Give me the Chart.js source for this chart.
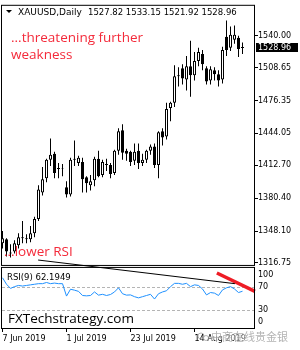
<!DOCTYPE html>
<html><head><meta charset="utf-8">
<script src="https://cdn.jsdelivr.net/npm/chart.js@4"></script>
<style>html,body{margin:0;padding:0;background:#fff;overflow:hidden}#wrap{width:300px;height:350px;position:relative}</style>
</head><body><div id="wrap"><canvas id="c" width="300" height="350"></canvas></div>
<script>
const dates = ['7 Jun 2019','10 Jun 2019','11 Jun 2019','12 Jun 2019','13 Jun 2019','14 Jun 2019','17 Jun 2019','18 Jun 2019','19 Jun 2019','20 Jun 2019','21 Jun 2019','24 Jun 2019','25 Jun 2019','26 Jun 2019','27 Jun 2019','28 Jun 2019','1 Jul 2019','2 Jul 2019','3 Jul 2019','4 Jul 2019','5 Jul 2019','8 Jul 2019','9 Jul 2019','10 Jul 2019','11 Jul 2019','12 Jul 2019','15 Jul 2019','16 Jul 2019','17 Jul 2019','18 Jul 2019','19 Jul 2019','22 Jul 2019','23 Jul 2019','24 Jul 2019','25 Jul 2019','26 Jul 2019','29 Jul 2019','30 Jul 2019','31 Jul 2019','1 Aug 2019','2 Aug 2019','5 Aug 2019','6 Aug 2019','7 Aug 2019','8 Aug 2019','9 Aug 2019','12 Aug 2019','13 Aug 2019','14 Aug 2019','15 Aug 2019','16 Aug 2019','19 Aug 2019','20 Aug 2019','21 Aug 2019','22 Aug 2019','23 Aug 2019','26 Aug 2019','27 Aug 2019','28 Aug 2019','29 Aug 2019','30 Aug 2019'];
const open = [1336,1340,1327,1328,1334,1342,1341,1340,1346,1360, 1386,1400,1418,1424,1409,1409,1391,1384,1418,1415, 1416,1401,1393,1398,1419,1403,1414,1413,1405,1427, 1447,1427,1426,1417,1427,1415,1418,1427,1431,1413, 1446,1441,1469,1474,1500,1508,1497,1510,1501,1515, 1522,1508,1496,1506,1502,1497,1539,1528,1536,1538, 1527.82];
const high = [1348,1341,1335,1339,1346,1358,1345,1353,1362,1393, 1411,1419,1439,1426,1415,1414,1397,1420,1437,1422, 1420,1402,1403,1421,1427,1418,1419,1415,1428,1449, 1453,1429,1427,1434,1434,1424,1428,1433,1434,1446, 1449,1474,1475,1511,1509,1512,1520,1535,1524,1528, 1526,1510,1510,1509,1506,1529,1555,1549,1550,1540, 1533.15];
const low = [1331,1323,1322,1326,1331,1336,1336,1337,1342,1358, 1383,1396,1412,1400,1400,1402,1381,1382,1412,1412, 1386,1386,1388,1392,1401,1401,1407,1400,1403,1423, 1418,1417,1412,1413,1409,1412,1415,1423,1410,1400, 1432,1438,1456,1470,1490,1492,1486,1480,1496,1510, 1506,1492,1492,1496,1490,1493,1520,1525,1532,1519, 1521.92];
const close = [1341,1328,1326,1336,1342,1341,1340,1346,1360,1389, 1399,1418,1423,1405,1410,1409.5,1384,1418,1419,1420, 1399,1395,1397,1419,1402,1416,1413,1404,1427,1446, 1425,1424,1416,1426,1415,1418,1427,1431,1413,1445, 1440,1468,1474,1500,1501,1498,1510,1501,1515,1524, 1512,1495,1507,1502,1496,1526,1526,1541,1541,1527, 1528.96];
const rsi = [85,74,67,70,72,71,72,73,74,75, 75,77,75,76,75,75,54,65.6,64,62, 55,54.4,55,61,55.6,57,55,56.7,61,68, 58,55.6,56,53,51,53,55,57,49,58, 61,63,70,75.5,75.5,74,75.5,70,73,72, 66,56,60,59,55,64.5,68,70,66,60, 62.1949];
const priceTicks = [1540.00,1508.65,1476.35,1444.05,1412.70,1380.40,1348.10,1316.75];
const rsiTicks = [100,70,30,0];
const rsiLevels = [70,30];
const tickDates = ['7 Jun 2019','1 Jul 2019','23 Jul 2019','14 Aug 2019'];
const trendX = [8.9, 58.1], trendY = [115, 75];
const arrowX = [53.6, 63.1], arrowY = [93, 62];

const idx = dates.map((d,i)=>i);
const wickData = idx.map(i=>({x:i, y:[low[i], high[i]]}));
const bodyData = idx.map(i=>({x:i, y:[open[i], close[i]]}));
const bodyFill = idx.map(i=> close[i] >= open[i] ? '#ffffff' : '#000000');
const last = dates.length - 1;

const deco = {
  id: 'deco',
  beforeDatasetsDraw(chart) {
    const ctx = chart.ctx, a = chart.chartArea, r = chart.scales.rsi;
    ctx.save();
    ctx.strokeStyle = '#b4b4b4'; ctx.lineWidth = 1; ctx.setLineDash([3,2]);
    rsiLevels.forEach(v => {
      const y = Math.round(r.getPixelForValue(v)) + 0.5;
      ctx.beginPath(); ctx.moveTo(a.left + 1, y); ctx.lineTo(a.right - 1, y); ctx.stroke();
    });
    ctx.restore();
  },
  afterDraw(chart) {
    const ctx = chart.ctx, a = chart.chartArea, p = chart.scales.y, r = chart.scales.rsi;
    ctx.save();
    ctx.setLineDash([]);
    ctx.strokeStyle = '#000'; ctx.lineWidth = 1;
    ctx.strokeRect(a.left + 0.5, p.top + 0.5, a.right - a.left - 1, p.bottom - p.top - 1);
    ctx.strokeRect(a.left + 0.5, r.top + 1.5, a.right - a.left - 1, r.bottom - r.top - 2);
    ctx.fillStyle = '#000'; ctx.font = '8px "DejaVu Sans"'; ctx.textBaseline = 'middle'; ctx.textAlign = 'left';
    rsiTicks.forEach(v => {
      let y = r.getPixelForValue(v);
      y = Math.min(Math.max(y, r.top + 9), r.bottom - 7);
      ctx.fillText(String(v), a.right + 3, y);
    });
    const cy = p.getPixelForValue(close[last]);
    ctx.fillStyle = '#000';
    ctx.fillRect(a.right + 1, Math.round(cy) - 4, 42, 9);
    ctx.fillStyle = '#fff';
    ctx.fillText(close[last].toFixed(2), a.right + 3, Math.round(cy) + 0.5);
    ctx.fillStyle = '#000';
    ctx.beginPath(); ctx.moveTo(6, 10); ctx.lineTo(12, 10); ctx.lineTo(9, 13); ctx.closePath(); ctx.fill();
    ctx.textBaseline = 'alphabetic';
    ctx.font = '9px "DejaVu Sans"';
    ctx.fillText('XAUUSD,Daily', 18, 15);
    ctx.font = '8.5px "DejaVu Sans"';
    ctx.fillText([open[last], high[last], low[last], close[last]].map(v=>v.toFixed(2)).join(' '), 88, 15);
    ctx.fillText('RSI(9) ' + rsi[last].toFixed(4), 7, 280);
    ctx.fillStyle = '#f42a3a';
    ctx.font = '13.5px "Open Sans"';
    ctx.fillText('...threatening further', 11, 42);
    ctx.fillText('weakness', 11, 59);
    ctx.fillText('...lower RSI', 4, 256);
    ctx.fillStyle = '#000';
    ctx.font = '13.5px "Open Sans"';
    ctx.fillText('FXTechstrategy.com', 8, 323);
    ctx.globalAlpha = 0.75;
    ctx.strokeStyle = '#a0a0a0'; ctx.lineWidth = 1;
    ctx.beginPath(); ctx.arc(201, 336, 3, 0, Math.PI * 2); ctx.stroke();
    ctx.beginPath(); ctx.arc(206, 338, 2.5, 0, Math.PI * 2); ctx.stroke();
    ctx.font = '11px "Noto Sans CJK SC"';
    ctx.lineWidth = 2; ctx.strokeStyle = 'rgba(255,255,255,0.6)';
    ctx.strokeText('中商在线贵金银', 211, 341);
    ctx.fillStyle = '#9a9a9a';
    ctx.fillText('中商在线贵金银', 211, 341);
    ctx.restore();
  }
};

new Chart(document.getElementById('c'), {
  type: 'bar',
  data: { datasets: [
    {type:'line', label:'trend', yAxisID:'rsi', data: trendX.map((x,k)=>({x, y: trendY[k]})), borderColor:'#000', borderWidth:1, pointRadius:0, clip:false, order:0},
    {type:'line', label:'arrow', yAxisID:'rsi', data: arrowX.map((x,k)=>({x, y: arrowY[k]})), borderColor:'#ee1c25', borderWidth:3.5, pointRadius:0, clip:false, order:0},
    {type:'line', label:'RSI', yAxisID:'rsi', data: rsi.map((v,i)=>({x:i, y:v})), borderColor:'#1e90ff', borderWidth:1, pointRadius:0, order:1},
    {type:'bar', label:'body', yAxisID:'y', data: bodyData, backgroundColor: bodyFill, borderColor:'#000', borderWidth:1, borderSkipped:false, barThickness:3, maxBarThickness:3, grouped:false, inflateAmount:0, order:2},
    {type:'bar', label:'wick', yAxisID:'y', data: wickData, backgroundColor:'#000', borderWidth:0, barThickness:1, maxBarThickness:1, grouped:false, inflateAmount:0, order:3}
  ]},
  options: {
    responsive: false, animation: false, devicePixelRatio: 1,
    layout: { padding: { left: 1, top: 0, right: 0, bottom: 0 } },
    plugins: { legend: { display: false }, tooltip: { enabled: false } },
    scales: {
      x: {
        type: 'linear', offset: false, min: -0.375, max: 63.125,
        grid: { display: true, offset: false, drawOnChartArea: false, drawTicks: true, tickLength: 3, color: '#000' },
        border: { display: false },
        afterBuildTicks: s => { s.ticks = tickDates.map(d => ({ value: dates.indexOf(d) })); },
        afterFit: s => { s.height = 21; },
        ticks: { autoSkip: false, maxRotation: 0, align: 'start', padding: 2, color: '#000', font: { family: 'DejaVu Sans', size: 8 }, callback: v => dates[v] || '' }
      },
      y: {
        type: 'linear', position: 'right', stack: 'v', stackWeight: 265, min: 1313.8, max: 1570.3,
        grid: { display: true, drawOnChartArea: false, drawTicks: true, tickLength: 3, color: '#000' },
        border: { display: false },
        afterBuildTicks: s => { s.ticks = priceTicks.map(v => ({ value: v })); },
        afterFit: s => { s.width = 45; },
        ticks: { autoSkip: false, padding: 0, color: '#000', font: { family: 'DejaVu Sans', size: 8 }, callback: v => Number(v).toFixed(2) }
      },
      rsi: {
        type: 'linear', position: 'right', stack: 'v', stackWeight: 64, min: -1.67, max: 105,
        grid: { display: false }, border: { display: false },
        ticks: { display: false },
        afterFit: s => { s.width = 45; }
      }
    }
  },
  plugins: [deco]
});
</script>
</body></html>
